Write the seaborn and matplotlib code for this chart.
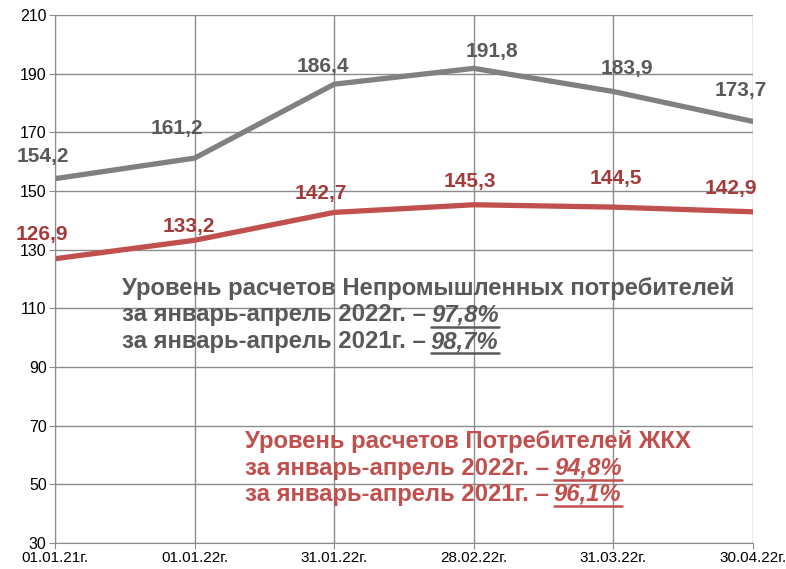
import pandas as pd
import matplotlib.pyplot as plt
import seaborn as sns

dates = ['01.01.21г.', '01.01.22г.', '31.01.22г.', '28.02.22г.', '31.03.22г.', '30.04.22г.']
neprom = [154.2, 161.2, 186.4, 191.8, 183.9, 173.7]
zhkh = [126.9, 133.2, 142.7, 145.3, 144.5, 142.9]
yticks = list(range(30, 211, 20))

gray_line = '#808080'
gray_txt = '#595959'
red = '#c0504d'
red_lbl = '#a23b39'

df = pd.DataFrame({'pos': range(len(dates)), 'neprom': neprom, 'zhkh': zhkh})

sns.set_style('white')
plt.rcParams['font.family'] = ['Liberation Sans', 'DejaVu Sans']

fig = plt.figure(figsize=(7.86, 5.69), dpi=100)
ax = fig.add_axes([0.070, 0.0457, 0.888, 0.928])

sns.lineplot(data=df, x='pos', y='neprom', color=gray_line, linewidth=3.8, ax=ax)
sns.lineplot(data=df, x='pos', y='zhkh', color=red, linewidth=3.8, ax=ax)

ax.set_xlim(0, 5)
ax.set_ylim(30, 210)
ax.set_xticks(df['pos'])
ax.set_xticklabels(dates, fontsize=11)
ax.set_yticks(yticks)
ax.set_yticklabels([str(v) for v in yticks], fontsize=11.5)
ax.set_xlabel('')
ax.set_ylabel('')
ax.grid(True, color='#8c8c8c', linewidth=1)
for s in ['top', 'right']:
    ax.spines[s].set_visible(False)
for s in ['left', 'bottom']:
    ax.spines[s].set_color('#8c8c8c')
ax.tick_params(axis='both', length=4, color='#8c8c8c', labelcolor='black', pad=2, direction='out', bottom=True, left=True)

# подписи значений (смещения в пикселях)
g_off = [(-12, 22), (-18, 30), (-11, 18), (18, 17), (13, 23), (-12, 31)]
r_off = [(-13, 24), (-6, 14), (-13, 19), (-4, 23), (2, 29), (-22, 23)]
for i in range(len(dates)):
    ax.annotate(f'{neprom[i]:.1f}'.replace('.', ','), (i, neprom[i]), xytext=g_off[i],
                textcoords='offset pixels', ha='center', va='center',
                fontsize=15, fontweight='bold', color=gray_txt)
    ax.annotate(f'{zhkh[i]:.1f}'.replace('.', ','), (i, zhkh[i]), xytext=r_off[i],
                textcoords='offset pixels', ha='center', va='center',
                fontsize=15, fontweight='bold', color=red_lbl)


def block(x, baselines, lines, color, fs=17.2):
    W, H = fig.get_size_inches() * fig.dpi
    r = fig.canvas.get_renderer()
    for yb, (head, pct) in zip(baselines, lines):
        yy = 1 - yb / H
        t = fig.text(x / W, yy, head, fontsize=fs, fontweight='bold', color=color, va='baseline')
        if pct:
            bb = t.get_window_extent(r)
            t2 = fig.text(bb.x1 / W + 5 / W, yy, pct, fontsize=fs, fontweight='bold',
                          style='italic', color=color, va='baseline')
            bb2 = t2.get_window_extent(r)
            ul = (H - yb - 5) / H
            fig.add_artist(plt.Line2D([bb2.x0 / W, bb2.x1 / W], [ul, ul],
                                      color=color, linewidth=1.8))


block(122, [295, 321.5, 348], [('Уровень расчетов Непромышленных потребителей', ''),
                               ('за январь-апрель 2022г. –', '97,8%'),
                               ('за январь-апрель 2021г. –', '98,7%')], gray_txt)
block(245, [448, 474.5, 501], [('Уровень расчетов Потребителей ЖКХ', ''),
                               ('за январь-апрель 2022г. –', '94,8%'),
                               ('за январь-апрель 2021г. –', '96,1%')], red)

plt.savefig('out.png', dpi=100)
